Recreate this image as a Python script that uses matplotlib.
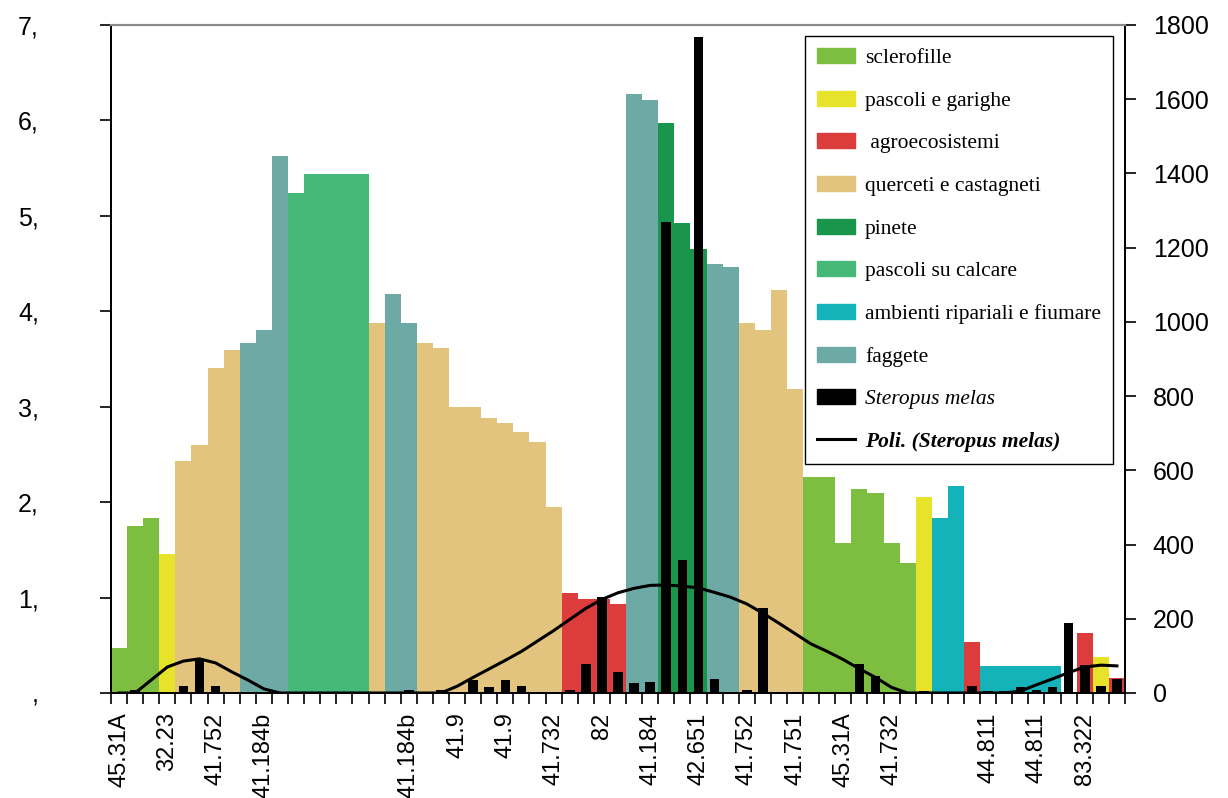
import numpy as np
import matplotlib.pyplot as plt
from matplotlib.patches import Patch
from matplotlib.lines import Line2D

plt.rcParams['font.family'] = ['Liberation Sans', 'DejaVu Sans']

# habitat classes (legend order) and colours
habitat_names = ["sclerofille", "pascoli e garighe", " agroecosistemi",
                 "querceti e castagneti", "pinete", "pascoli su calcare",
                 "ambienti ripariali e fiumare", "faggete"]
habitat_colors = ["#7dbe41", "#e6e32a", "#dc3c3c", "#e2c47e",
                  "#19964b", "#46b978", "#14b2b9", "#6eaaa5"]

# one entry per station (63 stations)
habitat_class = [0, 0, 0, 1, 3, 3, 3, 3, 7, 7,
                 7, 5, 5, 5, 5, 5, 3, 7, 7, 3,
                 3, 3, 3, 3, 3, 3, 3, 3, 2, 2,
                 2, 2, 7, 7, 4, 4, 4, 7, 7, 3,
                 3, 3, 3, 0, 0, 0, 0, 0, 0, 0,
                 1, 6, 6, 2, 6, 6, 6, 6, 6, 2,
                 2, 1, 2]
habitat_value = [0.47, 1.75, 1.83, 1.46, 2.43, 2.60, 3.41, 3.59, 3.67, 3.80,
                 5.63, 5.24, 5.44, 5.44, 5.44, 5.44, 3.88, 4.18, 3.88, 3.67,
                 3.61, 3.00, 3.00, 2.88, 2.83, 2.73, 2.63, 1.95, 1.05, 0.98,
                 0.98, 0.93, 6.28, 6.21, 5.97, 4.93, 4.65, 4.50, 4.46, 3.88,
                 3.80, 4.22, 3.19, 2.26, 2.26, 1.57, 2.14, 2.10, 1.57, 1.36,
                 2.05, 1.83, 2.17, 0.53, 0.28, 0.28, 0.28, 0.28, 0.28, 0.0,
                 0.63, 0.38, 0.16]
steropus = [0, 8, 0, 0, 19, 92, 19, 0, 0, 0,
            0, 0, 0, 0, 0, 0, 0, 0, 8, 0,
            8, 0, 35, 16, 35, 19, 0, 0, 8, 78,
            259, 57, 27, 30, 1269, 358, 1768, 38, 0, 8,
            229, 0, 0, 0, 0, 0, 78, 46, 0, 3,
            5, 0, 0, 19, 5, 5, 16, 8, 16, 189,
            75, 19, 38]
trend = [0, 0, 35, 70, 86, 92, 81, 57, 35, 11,
         0, 0, 0, 0, 0, 0, 0, 0, 0, 0,
         0, 18, 42, 65, 88, 112, 140, 168, 198, 228,
         252, 270, 282, 290, 291, 288, 283, 271, 258, 240,
         215, 188, 160, 132, 112, 90, 65, 42, 15, 0,
         0, 0, 0, 0, 0, 0, 5, 22, 38, 55,
         70, 75, 73]
tick_labels = ["45.31A", "32.23", "41.752", "41.184b", "", "", "41.184b",
               "41.9", "41.9", "41.732", "82", "41.184", "42.651", "41.752",
               "41.751", "45.31A", "41.732", "", "44.811", "44.811", "83.322"]
left_labels = [",", "1,", "2,", "3,", "4,", "5,", "6,", "7,"]

x = np.arange(len(habitat_value))

fig = plt.figure(figsize=(12.28, 7.98), dpi=100)
ax = fig.add_axes([0.0904, 0.1316, 0.8257, 0.8371])

colors = [habitat_colors[c] for c in habitat_class]
ax.bar(x, habitat_value, width=1.0, color=colors, linewidth=0)
ax.set_xlim(-0.5, len(x) - 0.5)
ax.set_ylim(0, 7)

ax.set_xticks(np.arange(-0.5, len(x), 1))
ax.set_xticklabels([])
ax.set_xticks(x[::3], labels=tick_labels, minor=True, rotation=90)
ax.tick_params(axis='x', which='major', direction='out', length=8, width=1.2)
ax.tick_params(axis='x', which='minor', length=0, pad=14, labelsize=17)

ax.set_yticks(range(8), labels=left_labels)
ax.tick_params(axis='y', direction='out', length=8, width=1.2, pad=44, labelsize=18)

ax2 = ax.twinx()
ax2.bar(x, steropus, width=0.6, color='black', linewidth=0)
ax2.plot(x, trend, color='black', lw=2.2)
ax2.set_ylim(0, 1800)
ax2.set_yticks(range(0, 1801, 200))
ax2.tick_params(axis='y', direction='out', length=8, width=1.2, pad=12, labelsize=18)

for a in (ax, ax2):
    a.spines['top'].set_color('#8a8a8a')
    a.spines['top'].set_linewidth(1.5)
    for s in ('left', 'right', 'bottom'):
        a.spines[s].set_color('black')
        a.spines[s].set_linewidth(1.3)

handles = [Patch(color=c) for c in habitat_colors]
handles.append(Patch(color='black'))
handles.append(Line2D([0], [0], color='black', lw=2.2))
labels = habitat_names + ["Steropus melas", "Poli. (Steropus melas)"]
leg = ax2.legend(handles, labels, loc='upper right', bbox_to_anchor=(0.988, 0.9835),
                 prop={'family': 'Liberation Serif', 'size': 15.5},
                 labelspacing=1.05, handlelength=1.8, handletextpad=0.45,
                 borderpad=0.55, borderaxespad=0, fancybox=False,
                 edgecolor='black', framealpha=1)
leg.get_frame().set_linewidth(1.0)
leg.get_texts()[8].set_style('italic')
leg.get_texts()[9].set_style('italic')
leg.get_texts()[9].set_weight('bold')

plt.savefig("out.png", dpi=100)
